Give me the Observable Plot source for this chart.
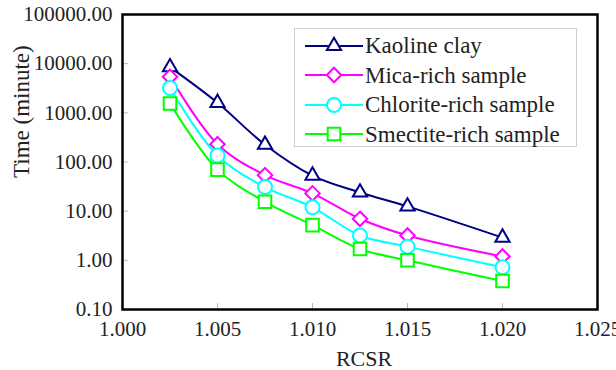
<!DOCTYPE html>
<html>
<head>
<meta charset="utf-8">
<script src="https://cdn.jsdelivr.net/npm/d3@7"></script>
<script src="https://cdn.jsdelivr.net/npm/@observablehq/plot@0.6"></script>
<style>
  html, body { margin: 0; padding: 0; background: #fff; }
  #wrap { position: relative; width: 616px; height: 370px; overflow: hidden; font-family: "Liberation Serif", "Times New Roman", serif; }
  #wrap svg, #wrap svg text { font-family: "Liberation Serif", "Times New Roman", serif !important; font-variant: normal; font-weight: normal; }
  #legend { position: absolute; left: 294px; top: 28px; width: 283px; height: 119px; border: 1px solid #cfcfcf; background: #fff; box-sizing: border-box; padding-top: 2px; }
  .row { display: flex; align-items: center; height: 29.5px; }
  .row svg { margin-left: 10px; }
  .row span { font-size: 23px; color: #222; margin-left: 2px; line-height: 1; }
</style>
</head>
<body>
<div id="wrap"></div>
<script>
const rcsr = [1.0025, 1.005, 1.0075, 1.010, 1.0125, 1.015, 1.020];
const kaoline = [8500, 1600, 225, 53, 24, 12.5, 2.9];
const mica = [5400, 230, 54, 23, 7, 3.2, 1.2];
const chlorite = [3200, 135, 31, 12, 3.2, 1.9, 0.72];
const smectite = [1550, 70, 15.5, 5.2, 1.7, 1.0, 0.38];

const seriesNames = ["Kaoline clay", "Mica-rich sample", "Chlorite-rich sample", "Smectite-rich sample"];
const seriesValues = [kaoline, mica, chlorite, smectite];
const seriesColors = ["#000080", "#ff00ff", "#00ffff", "#00ff00"];
const seriesSymbols = ["triangle2", "diamond2", "circle", "square2"];
const seriesR = [6.8, 6.5, 7, 8];

const xTicks = [1.000, 1.005, 1.010, 1.015, 1.020, 1.025];
const yTicks = [0.1, 1, 10, 100, 1000, 10000, 100000];

const serif = "'Liberation Serif', 'Times New Roman', serif";

const marks = [];
seriesNames.forEach((name, i) => {
  const data = rcsr.map((x, j) => ({x, y: seriesValues[i][j], series: name}));
  marks.push(Plot.line(data, {x: "x", y: "y", stroke: seriesColors[i], strokeWidth: 2, curve: "catmull-rom"}));
});
seriesNames.forEach((name, i) => {
  const data = rcsr.map((x, j) => ({x, y: seriesValues[i][j], series: name}));
  marks.push(Plot.dot(data, {x: "x", y: "y", symbol: () => seriesSymbols[i], r: seriesR[i], stroke: seriesColors[i], strokeWidth: 2, fill: "white"}));
});

const chart = Plot.plot({
  width: 616,
  height: 370,
  marginLeft: 122,
  marginRight: 19,
  marginTop: 14,
  marginBottom: 61,
  style: {fontFamily: serif, fontSize: "20px", color: "#222", background: "white"},
  x: {domain: [1.000, 1.025]},
  y: {type: "log", domain: [0.1, 100000]},
  symbol: {type: "identity"},
  marks: [
    Plot.axisX(xTicks, {tickSize: -6, stroke: "#bbb", tickFormat: () => "", label: null}),
    Plot.axisY(yTicks, {tickSize: -6, stroke: "#bbb", tickFormat: () => "", label: null}),
    Plot.axisX(xTicks, {tickSize: 0, tickFormat: d3.format(".3f"), tickPadding: 12, fontSize: 21, fontFamily: serif, fill: "#222", label: null}),
    Plot.axisY(yTicks, {tickSize: 0, tickFormat: d3.format(".2f"), tickPadding: 10, fontSize: 21, fontFamily: serif, fill: "#222", label: null}),
    ...marks,
    Plot.frame({stroke: "black", strokeWidth: 2.5}),
    Plot.text(["RCSR"], {frameAnchor: "bottom", dy: 41, dx: 4, fontSize: 22, fontFamily: serif, fill: "#222", textAnchor: "middle", lineAnchor: "top"}),
    Plot.text(["Time (minute)"], {frameAnchor: "left", rotate: -90, dx: -101, dy: 16, fontSize: 23, fontFamily: serif, fill: "#222", lineAnchor: "middle"})
  ]
});

d3.select(chart).selectAll("text")
  .attr("font-family", "Liberation Serif, Times New Roman, serif")
  .attr("stroke", "none")
  .style("font-family", "'Liberation Serif', 'Times New Roman', serif");

const wrap = document.getElementById("wrap");
wrap.appendChild(chart);

const legend = document.createElement("div");
legend.id = "legend";
const symbolPaths = seriesSymbols.map((s, i) => {
  const sym = {triangle2: d3.symbolTriangle2, diamond2: d3.symbolDiamond2, circle: d3.symbolCircle, square2: d3.symbolSquare2}[s];
  return d3.symbol(sym, Math.PI * seriesR[i] * seriesR[i])();
});
seriesNames.forEach((name, i) => {
  const row = document.createElement("div");
  row.className = "row";
  row.innerHTML = `<svg width="58" height="26"><line x1="0" x2="58" y1="13" y2="13" stroke="${seriesColors[i]}" stroke-width="2"/><path transform="translate(29,13)" d="${symbolPaths[i]}" fill="white" stroke="${seriesColors[i]}" stroke-width="2"/></svg><span>${name}</span>`;
  legend.appendChild(row);
});
wrap.appendChild(legend);
</script>
</body>
</html>
